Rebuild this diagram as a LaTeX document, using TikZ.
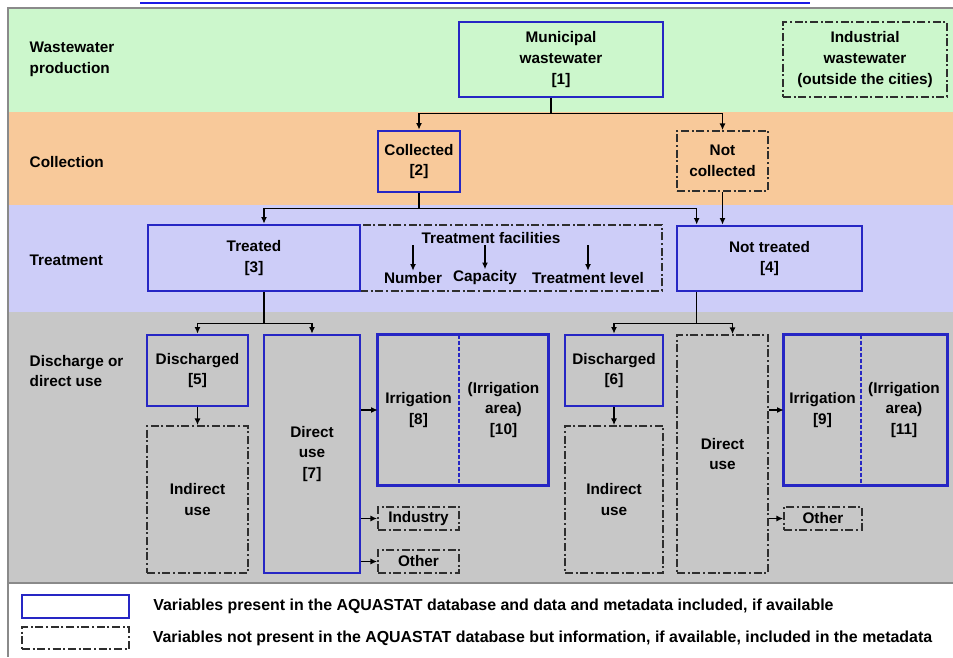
\documentclass[tikz,border=0pt]{standalone}
\usepackage{fontspec}
\setmainfont{Liberation Sans}
\usepackage{xcolor}
\usepackage{tikz}
\usetikzlibrary{arrows.meta}
\usetikzlibrary{positioning,calc}

\definecolor{prodgreen}{HTML}{CCF7CC}
\definecolor{collorange}{HTML}{F8C99A}
\definecolor{treatblue}{HTML}{CDCDF8}
\definecolor{usegray}{HTML}{C7C7C7}
\definecolor{varblue}{HTML}{2626C4}
\definecolor{metagray}{HTML}{2E2E2E}
\definecolor{framegray}{HTML}{8A8A8A}
\definecolor{linkblue}{HTML}{1A1AE6}

\newcommand{\boxfont}{\fontsize{11.5}{15.5}\selectfont\bfseries}
\newcommand{\keyfont}{\fontsize{11.95}{13}\selectfont\bfseries}

\tikzset{
  boxsize/.style 2 args={minimum width=#1*0.75pt, minimum height=#2*0.75pt},
  varbox/.style={draw=varblue, line width=2pt, inner sep=0pt, align=center, font=\boxfont},
  metabox/.style={draw=metagray, line width=1.3pt, dash pattern=on 6pt off 2pt on 1.5pt off 2pt,
    inner sep=0pt, align=center, font=\boxfont},
  plainbox/.style={inner sep=0pt, align=center, font=\boxfont},
  varline/.style={draw=varblue, line width=2pt},
  splitline/.style={draw=varblue, line width=1.2pt, dash pattern=on 3pt off 1.5pt},
  flow/.style={-{Latex[length=5pt,width=4.5pt]}, line width=1.1pt},
  bandlabel/.style={anchor=west, align=left, font=\boxfont},
  facitem/.style={inner sep=1pt, font=\boxfont},
  keytext/.style={anchor=west, inner sep=0pt, font=\keyfont},
}

\begin{document}
\begin{tikzpicture}[x=0.75pt, y=-0.75pt]
    \useasboundingbox (0,0) rectangle (953,657);

    % Bandes de fond
    \fill[prodgreen] (8,8) rectangle (953,112);
    \fill[collorange] (8,112) rectangle (953,205);
    \fill[treatblue] (8,205) rectangle (953,312);
    \fill[usegray] (8,312) rectangle (953,583);
    \draw[framegray, line width=1pt] (953,8) -- (8,8) -- (8,657);
    \draw[framegray, line width=1pt] (8,583) -- (953,583);
    \draw[linkblue, line width=1.5pt] (140,3) -- (810,3);

    % Production
    \node[bandlabel] (lprod) at (25,59) {Wastewater\\production};
    \node[varbox, boxsize={204}{75}] (muni) at (561,59.5) {Municipal\\wastewater\\{[1]}};
    \node[metabox, boxsize={164}{75}] (indus) at (865,59.5) {Industrial\\wastewater\\(outside the cities)};

    % Collecte
    \node[bandlabel] (lcoll) at (25,162) {Collection};
    \node[varbox, boxsize={82}{61}] (coll) at (419,161.5) {Collected\\{[2]}};
    \node[metabox, boxsize={91}{60}] (ncoll) at (722.5,161) {Not\\collected};

    % Traitement
    \node[bandlabel] (ltreat) at (25,260) {Treatment};
    \node[metabox, boxsize={302}{66}] (facil) at (511,258) {};
    \node[varbox, boxsize={212}{66}] (treat) at (254,258) {Treated\\{[3]}};
    \node[facitem] (ftitle) at (491,238) {Treatment facilities};
    \node[facitem] (fnum) at (413,278) {Number};
    \node[facitem] (fcap) at (485,278) {Capacity};
    \node[facitem] (flevel) at (588,278) {Treatment level};
    \node[varbox, boxsize={185}{65}] (ntreat) at (769.5,258.5) {Not treated\\{[4]}};

    % Rejet ou usage direct (traite)
    \node[bandlabel] (luse) at (25,371) {Discharge or\\direct use};
    \node[varbox, boxsize={101}{71}] (dis5) at (197.5,370.5) {Discharged\\{[5]}};
    \node[metabox, boxsize={101}{147}] (ind5) at (197.5,499.5) {Indirect\\use};
    \node[varbox, boxsize={96}{238}] (dir7) at (312,454) {Direct\\use\\{[7]}};
    \node[plainbox, boxsize={81}{150}] (irr8) at (418.5,410) {Irrigation\\{[8]}};
    \node[plainbox, boxsize={89}{150}] (area10) at (503.5,410) {(Irrigation\\area)\\{[10]}};
    \draw[varline] (irr8.north west) rectangle (area10.south east);
    \draw[splitline] (irr8.north east) -- (irr8.south east);
    \node[metabox, boxsize={81}{23}] (indy7) at (418.5,518.5) {Industry};
    \node[metabox, boxsize={81}{23}] (oth7) at (418.5,561.5) {Other};

    % Rejet ou usage direct (non traite)
    \node[varbox, boxsize={98}{71}] (dis6) at (614,370.5) {Discharged\\{[6]}};
    \node[metabox, boxsize={98}{147}] (ind6) at (614,499.5) {Indirect\\use};
    \node[metabox, boxsize={91}{238}] (dir6) at (722.5,454) {Direct\\use};
    \node[plainbox, boxsize={77}{150}] (irr9) at (822.5,410) {Irrigation\\{[9]}};
    \node[plainbox, boxsize={86}{150}] (area11) at (904,410) {(Irrigation\\area)\\{[11]}};
    \draw[varline] (irr9.north west) rectangle (area11.south east);
    \draw[splitline] (irr9.north east) -- (irr9.south east);
    \node[metabox, boxsize={78}{23}] (oth6) at (823,518.5) {Other};

    % Fleches
    \draw[flow] ($(muni.south)+(-10,0)$) -- ++(0,15) -| (coll.north);
    \draw[flow] ($(muni.south)+(-10,0)$) -- ++(0,15) -| (ncoll.north);
    \draw[flow] (coll.south) -- ++(0,15) -| ($(treat.north)+(10,0)$);
    \draw[flow] (coll.south) -- ++(0,15) -| ($(ntreat.north west)+(21,0)$);
    \draw[flow] (ncoll.south) -- (ncoll.south |- ntreat.north);
    \draw[flow] (ftitle.south -| fnum.north) -- (fnum.north);
    \draw[flow] (ftitle.south -| fcap.north) -- (fcap.north);
    \draw[flow] (ftitle.south -| flevel.north) -- (flevel.north);
    \draw[flow] ($(treat.south)+(10,0)$) -- ++(0,31) -| (dis5.north);
    \draw[flow] ($(treat.south)+(10,0)$) -- ++(0,31) -| (dir7.north);
    \draw[flow] ($(ntreat.south west)+(21,0)$) -- ++(0,31) -| (dis6.north);
    \draw[flow] ($(ntreat.south west)+(21,0)$) -- ++(0,31) -| ($(dir6.north)+(10,0)$);
    \draw[flow] (dis5.south) -- (ind5.north);
    \draw[flow] (dis6.south) -- (ind6.north);
    \draw[flow] (dir7.east |- irr8.west) -- (irr8.west);
    \draw[flow] (dir7.east |- indy7.west) -- (indy7.west);
    \draw[flow] (dir7.east |- oth7.west) -- (oth7.west);
    \draw[flow] (dir6.east |- irr9.west) -- (irr9.west);
    \draw[flow] (dir6.east |- oth6.west) -- (oth6.west);

    % Legende
    \node[varbox, boxsize={107}{23}] (keyvar) at (75.5,606.5) {};
    \node[metabox, boxsize={107}{22}] (keymeta) at (75.5,638) {};
    \node[keytext, right=17pt of keyvar] (keyvartext) {Variables present in the AQUASTAT database and data and metadata included, if available};
    \node[keytext, right=17pt of keymeta] (keymetatext) {Variables not present in the AQUASTAT database but information, if available, included in the metadata};
\end{tikzpicture}
\end{document}
